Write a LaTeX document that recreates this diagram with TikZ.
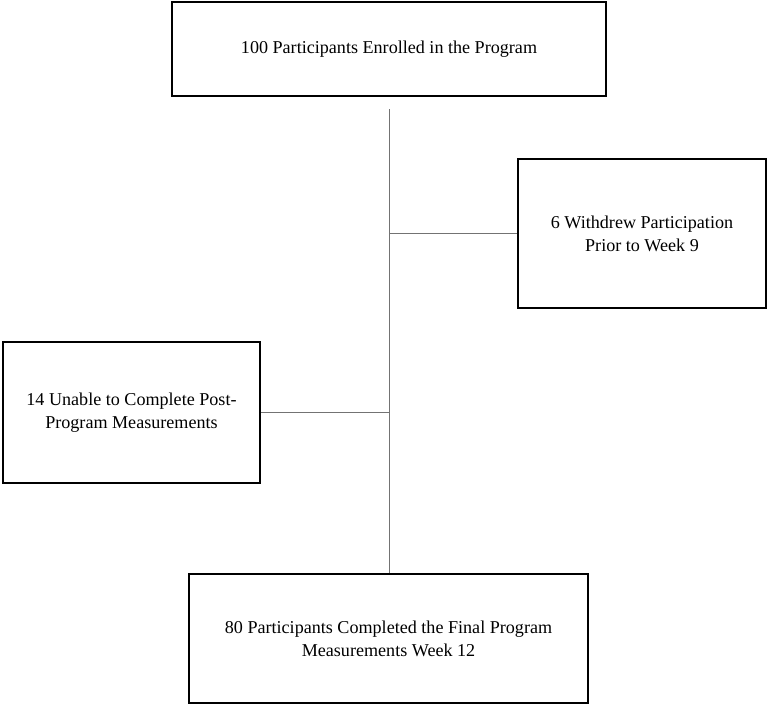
\documentclass[tikz,border=0pt]{standalone}
\usepackage{fontspec}
\setmainfont{Liberation Serif}
\usetikzlibrary{positioning}
\tikzset{
  box/.style={draw=black, line width=1.5pt, align=center, inner sep=4pt, font=\fontsize{18.1}{23}\selectfont},
  topbox/.style={box, line width=2pt},
  link/.style={draw=black!55, line width=1pt}
}

\begin{document}
\begin{tikzpicture}[x=1pt,y=1pt]
\useasboundingbox (0,0) rectangle (767,-704);
\node[topbox, minimum width=434pt, minimum height=94pt] (enrolled) at (389,-49) {100 Participants Enrolled in the Program};
\node[box, minimum width=248pt, minimum height=149pt] (withdrew) at (642,-233.5) {6 Withdrew Participation\\Prior to Week 9};
\node[box, minimum width=257pt, minimum height=141pt] (unable) at (131.5,-412.5) {14 Unable to Complete Post-\\Program Measurements};
\node[box, minimum width=399pt, minimum height=129pt] (completed) at (388.5,-638.5) {80 Participants Completed the Final Program\\Measurements Week 12};
\coordinate (stem) at (389,-109);
\coordinate (jright) at (389,-233.5);
\coordinate (jleft) at (389,-412);
\draw[link] (stem) -- (stem |- completed.north);
\draw[link] (jright) -- (withdrew.west);
\draw[link] (jleft) -- (jleft -| unable.east);
\end{tikzpicture}
\end{document}
